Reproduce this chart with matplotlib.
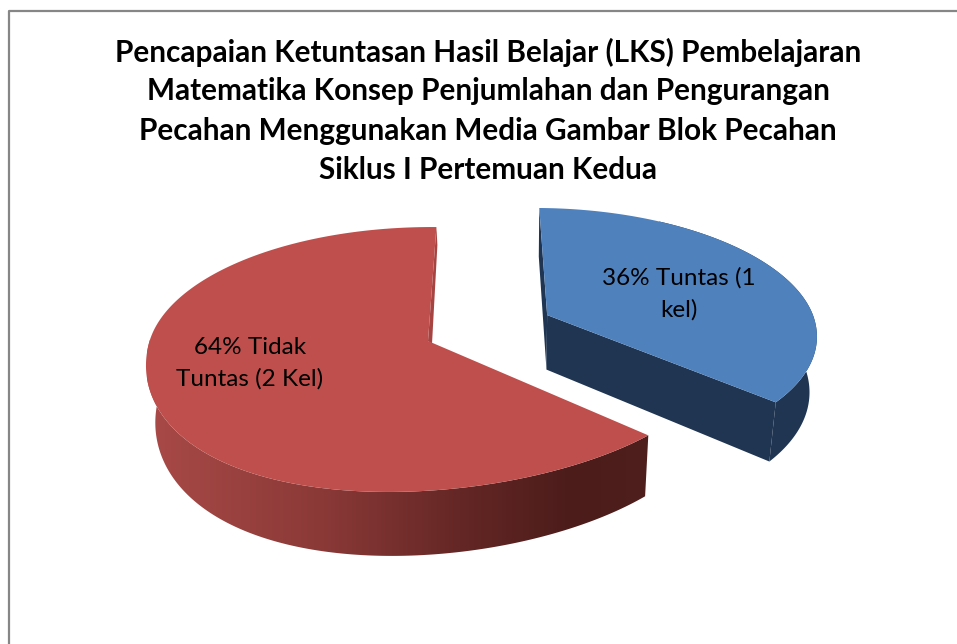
import matplotlib
matplotlib.use("Agg")
import matplotlib.pyplot as plt
import numpy as np
from matplotlib.colors import LinearSegmentedColormap
from matplotlib.patches import Polygon

title_lines = [
    "Pencapaian Ketuntasan Hasil Belajar (LKS) Pembelajaran",
    "Matematika Konsep Penjumlahan dan Pengurangan",
    "Pecahan Menggunakan Media Gambar Blok Pecahan",
    "Siklus I Pertemuan Kedua",
]
categories = ["Tuntas", "Tidak Tuntas"]
shares = [36, 64]
slice_labels = ["36% Tuntas (1\nkel)", "64% Tidak\nTuntas (2 Kel)"]

# Projection of the tilted pie into pixel space
CX, CY = 432, 343
RX, RY = 283, 130.4
PERSP = 0.1245
SHEAR = 38
DEPTH = 56
VANISH_X, SHRINK = 520, 0.975
START = 89
EXPLODE = (0.418, 0.22)
BLUE_SCALE_X, BLUE_SCALE_Y = 0.965, 0.972


def top_face(t, off=(0, 0), shear=SHEAR):
    u = off[0] + np.cos(np.radians(t))
    v = off[1] + np.sin(np.radians(t))
    w = 1 + PERSP * v
    # near half of the pie leans to the left
    x = CX + (RX * u - shear * np.minimum(v, 0) ** 2) / w
    return x, CY - RY * v / w, w


def apex(off):
    w = 1 + PERSP * off[1]
    return CX + RX * off[0] / w, CY - RY * off[1] / w, w


def lower(x, y, w):
    return VANISH_X + SHRINK * (x - VANISH_X), y + DEPTH / w


def blue_arc(a, b, n=200):
    x, y, w = top_face(np.linspace(a, b, n), EXPLODE, shear=0)
    y = np.where(y < ax_y, ax_y + BLUE_SCALE_Y * (y - ax_y), y)
    return ax_x + BLUE_SCALE_X * (x - ax_x), y, w


fig, ax = plt.subplots(figsize=(9.57, 6.44), dpi=100)
fig.subplots_adjust(0, 0, 1, 1)
ax.axis("off")

# Frame of the chart area, only top and left are in view
ax.plot([8.5, 8.5, 957], [644, 10.5, 10.5], color="#868686", lw=1.6, solid_capstyle="butt")

blue_span, red_span = [s * 3.6 for s in shares]
blue_from = START - blue_span
red_to = START + red_span

# Blue slice, pulled out of the pie
ax_x, ax_y, ax_w = apex(EXPLODE)
lo_ax, lo_ay = lower(ax_x, ax_y, ax_w)
x, y, w = blue_arc(blue_from, blue_from + 100)
lx, ly = lower(x, y, w)
ax.fill(np.r_[x, lx[::-1]], np.r_[y, ly[::-1]], color="#1f3552", lw=0)
ax.fill([ax_x, x[0], lx[0], lo_ax], [ax_y, y[0], ly[0], lo_ay], color="#1f3552", lw=0)
tx, ty, tw = blue_arc(START, START, n=1)
ltx, lty = lower(tx[0], ty[0], tw[0])
ax.fill([tx[0], ax_x, lo_ax, ltx], [ty[0], ax_y, lo_ay, lty], color="#1f3552", lw=0)
x, y, w = blue_arc(blue_from, START)
ax.fill(np.r_[ax_x, x], np.r_[ax_y, y], color="#4f81bd", lw=0)

# Red slice: curved wall with a shaded gradient
x, y, w = top_face(np.linspace(150, red_to, 300))
lx, ly = lower(x, y, w)
wall = Polygon(np.c_[np.r_[x, lx[::-1]], np.r_[y, ly[::-1]]], closed=True, fc="none", ec="none")
ax.add_patch(wall)
cmap = LinearSegmentedColormap.from_list(
    "wall", [(0, "#a94a47"), (0.35, "#8a3937"), (0.62, "#642725"), (0.85, "#4b1c1a"), (1, "#4f1f1d")]
)
grad = ax.imshow(np.linspace(0, 1, 256)[None, :], extent=(147, 652, 560, 340), cmap=cmap, aspect="auto")
grad.set_clip_path(wall)

# Thin inner wall next to the gap, then the flat top
face_x, face_y = CX - 4, CY - 2
tx, ty, tw = top_face(START)
ax.fill([tx, face_x, CX, tx + 1], [ty, face_y, CY + 1, ty + 18], color="#a64442", lw=0)
x, y, w = top_face(np.linspace(START, red_to, 300))
ax.fill(np.r_[face_x, x], np.r_[face_y, y], color="#be4f4c", lw=0)

ax.set_xlim(0, 957)
ax.set_ylim(644, 0)

for line, ty_px in zip(title_lines, [52, 91, 131, 170]):
    ax.text(488, ty_px, line, ha="center", va="center", family="Lato", weight="bold", fontsize=21.4, color="black")

ax.text(679, 294, slice_labels[0], ha="center", va="center", family="Lato", fontsize=17.5,
        color="black", linespacing=1.58)
ax.text(250, 363, slice_labels[1], ha="center", va="center", family="Lato", fontsize=17.5,
        color="black", linespacing=1.58)

fig.savefig("out.png", dpi=100)
